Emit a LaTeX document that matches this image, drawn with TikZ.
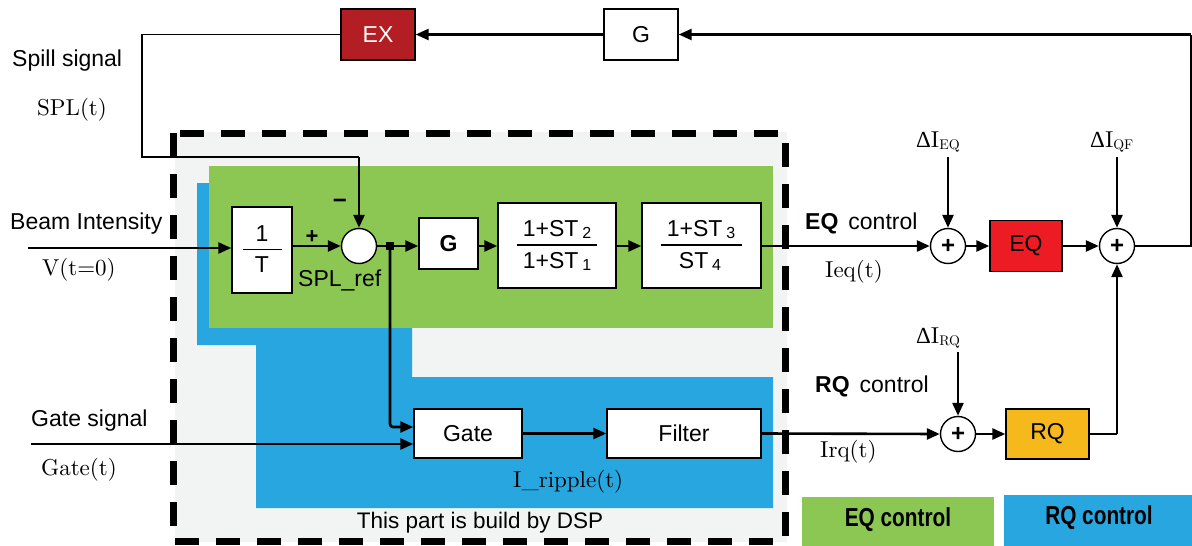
\documentclass[tikz,border=0pt]{standalone}
\usepackage{fontspec}
\usepackage{graphicx}
\usetikzlibrary{arrows.meta}
\newfontfamily\arialf{Liberation Sans}
\newfontfamily\deltaf{Liberation Serif}
\newfontfamily\serifr{lmroman10-regular.otf}
\definecolor{dspgray}{HTML}{F2F3F3}
\definecolor{eqgreen}{HTML}{8DC753}
\definecolor{rqblue}{HTML}{27A6DF}
\definecolor{exred}{HTML}{B21E24}
\definecolor{eqred}{HTML}{ED1C24}
\definecolor{rqorange}{HTML}{F5B91C}
\newcommand{\dI}[1]{{\deltaf Δ}I{\fontsize{14}{14}\selectfont\raisebox{-2pt}{#1}}}
\newcommand{\sub}[1]{\,\raisebox{-2pt}{\fontsize{16}{16}\selectfont #1}}
\tikzset{
  blk/.style={draw, line width=1.4pt, fill=white, inner sep=0pt,
    font=\arialf\fontsize{23}{26}\selectfont},
  sumc/.style={draw, circle, line width=1.4pt, fill=white, minimum size=35pt, inner sep=0pt,
    font=\arialf\bfseries\fontsize{24}{24}\selectfont},
  tip/.style={-{Triangle[length=13pt,width=11pt]}},
  sig/.style={line width=2.6pt, tip},
  wire/.style={line width=2.6pt},
  thinw/.style={line width=1.6pt},
  slabel/.style={font=\arialf\fontsize{23}{26}\selectfont, inner sep=0pt},
  rlabel/.style={font=\serifr\fontsize{23}{26}\selectfont, inner sep=0pt},
  fracrule/.style={line width=1.6pt},
}
\begin{document}
\begin{tikzpicture}[x=1pt,y=-1pt]
\useasboundingbox (0,0) rectangle (1192,546);
% backgrounds
\fill[dspgray] (175,132) rectangle (787,542);
\fill[rqblue] (197,183) -- (412,183) -- (412,377) -- (773,377) -- (773,508) -- (256,508) -- (256,345) -- (197,345) -- cycle;
\fill[eqgreen] (209,166) rectangle (773,328);
\draw[line width=7pt, dash pattern=on 24pt off 17pt] (173,133) rectangle (785,541);
\node[slabel, font=\arialf\fontsize{22.5}{26}\selectfont, anchor=base] (dsp) at (480,528) {This part is build by DSP};

% legend
\fill[eqgreen] (802,497) rectangle (994,546);
\fill[rqblue] (1004,495) rectangle (1192,546);
\node[slabel, font=\arialf\bfseries\fontsize{26}{28}\selectfont] (legEQ) at (898,520) {\scalebox{0.8}[1]{EQ control}};
\node[slabel, font=\arialf\bfseries\fontsize{26}{28}\selectfont] (legRQ) at (1099,518) {\scalebox{0.8}[1]{RQ control}};

% blocks
\node[blk, fill=exred, text=white, minimum width=74pt, minimum height=51pt] (EX) at (378,34.5) {EX};
\node[blk, minimum width=74pt, minimum height=51pt] (Gtop) at (641,34.5) {G};
\node[blk, minimum width=60pt, minimum height=86pt] (invT) at (262,250) {};
\node[slabel] (invTn) at (262,233.5) {1};
\node[slabel] (invTd) at (262,265) {T};
\draw[fracrule] (243,249.3) -- (282,249.3);
\node[sumc] (sum1) at (359,246) {};
\node[fill, inner sep=0pt, minimum size=8pt] (junction) at (390,246) {};
\node[blk, font=\arialf\bfseries\fontsize{23}{26}\selectfont, minimum width=59pt, minimum height=51pt] (Gmain) at (448.5,243.5) {G};
\node[blk, minimum width=118pt, minimum height=85pt] (tf1) at (557,245.5) {};
\node[slabel] (tf1n) at (557,229) {1+ST\sub{2}};
\node[slabel] (tf1d) at (557,261) {1+ST\sub{1}};
\draw[fracrule] (517,244.7) -- (597,244.7);
\node[blk, minimum width=119pt, minimum height=85pt] (tf2) at (701.5,245.5) {};
\node[slabel] (tf2n) at (701,229.5) {1+ST\sub{3}};
\node[slabel] (tf2d) at (700,261.5) {ST\sub{4}};
\draw[fracrule] (661,244.7) -- (742,244.7);
\node[blk, minimum width=108pt, minimum height=49pt] (Gate) at (468,433.5) {Gate};
\node[blk, minimum width=154pt, minimum height=49pt] (Filter) at (684,433.5) {Filter};
\node[sumc] (sumEQ) at (948,246) {+};
\node[blk, fill=eqred, minimum width=72pt, minimum height=51pt] (EQbox) at (1026,246) {EQ};
\node[sumc] (sumQF) at (1117,246) {+};
\node[sumc] (sumRQ) at (958,434) {+};
\node[blk, fill=rqorange, minimum width=83pt, minimum height=50pt] (RQbox) at (1047.5,434) {RQ};

% labels
\node[slabel, anchor=base west] (lspill) at (12,66) {Spill signal};
\node[rlabel, anchor=base west] (lspl) at (37,115) {SPL(t)};
\node[slabel, anchor=base west] (lbeam) at (10,229) {Beam Intensity};
\node[rlabel, anchor=base west] (lv) at (42,275) {V(t=0)};
\node[slabel, anchor=base west] (lgate) at (31,426) {Gate signal};
\node[rlabel, anchor=base west] (lgatet) at (41,475) {Gate(t)};
\node[slabel, anchor=base west] (lref) at (298,286.5) {SPL\_ref};
\node[slabel, font=\arialf\bfseries\fontsize{22}{26}\selectfont] (lplus) at (312,237) {+};
\node[slabel, font=\arialf\bfseries\fontsize{24}{26}\selectfont] (lminus) at (340,204) {−};
\node[slabel, anchor=base west] (leqc) at (805,229) {\textbf{EQ}\hspace{10pt}control};
\node[rlabel, anchor=base west] (lieq) at (825,277) {Ieq(t)};
\node[slabel, anchor=base west] (lrqc) at (815,392) {\textbf{RQ}\hspace{10pt}control};
\node[rlabel, anchor=base west] (lirq) at (820,457) {Irq(t)};
\node[rlabel, anchor=base west] (lrip) at (513,487) {I\_ripple(t)};
\node[rlabel, anchor=base west] (ldeq) at (916,147) {\dI{EQ}};
\node[rlabel, anchor=base west] (ldqf) at (1090,147) {\dI{QF}};
\node[rlabel, anchor=base west] (ldrq) at (916,343) {\dI{RQ}};

% coordinates
\coordinate (beamin) at (28,248);
\coordinate (gatesig) at (31,444);
\coordinate (lbot) at (142,157);
\coordinate (rc) at (1191,34.5);
\coordinate (eqin) at (948,157);
\coordinate (qfin) at (1117,157);
\coordinate (rqin) at (958,352);

% connectors
\draw[sig] (beamin) -- (beamin -| invT.west);
\draw[sig] (sum1.west -| invT.east) -- (sum1.west);
\draw[wire] (sum1.east) -- (junction.center);
\draw[sig] (junction.center) -- (junction -| Gmain.west);
\draw[sig] (junction -| Gmain.east) -- (junction -| tf1.west);
\draw[sig] (junction -| tf1.east) -- (junction -| tf2.west);
\draw[sig] (junction -| tf2.east) -- (sumEQ.west);
\draw[sig] (sumEQ.east) -- (EQbox.west);
\draw[sig] (EQbox.east) -- (sumQF.west);
\draw[thinw] (sumQF.east) -| (rc);
\draw[sig] (rc) -- (Gtop.east);
\draw[sig] (Gtop.west) -- (EX.east);
\draw[thinw] (EX.west) -| (lbot) -- (sum1.north |- lbot);
\draw[sig] (sum1.north |- lbot) -- (sum1.north);
\draw[sig, rounded corners=3pt] (junction.center) |- ([yshift=6.5pt]Gate.west);
\draw[sig] (gatesig) -- (gatesig -| Gate.west);
\draw[sig] (Gate.east) -- (Filter.west);
\draw[sig] (Filter.east) -- (sumRQ.west);
\draw[sig] (sumRQ.east) -- (RQbox.west);
\draw[thinw] (RQbox.east) -- (RQbox.east -| sumQF.south);
\draw[sig] (RQbox.east -| sumQF.south) -- (sumQF.south);
\draw[sig] (eqin) -- (sumEQ.north);
\draw[sig] (qfin) -- (sumQF.north);
\draw[sig] (rqin) -- (sumRQ.north);
\end{tikzpicture}
\end{document}
